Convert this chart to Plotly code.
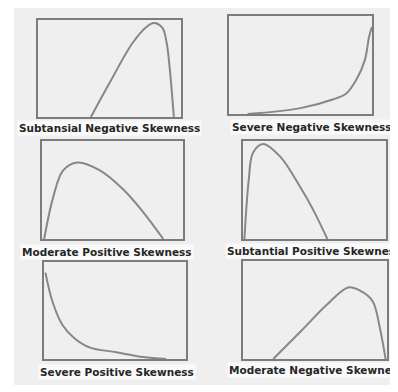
import plotly.graph_objects as go

W, H = 398, 392
OFF = 8  # page body margin shifts the figure by 8px

titles = [
    "Subtansial Negative Skewness",
    "Severe Negative Skewness",
    "Moderate Positive Skewness",
    "Subtantial Positive Skewness",
    "Severe Positive Skewness",
    "Moderate Negative Skewness",
]

# curve points (x, y as fraction of each box)
sub_neg_x = [0.37, 0.50, 0.66, 0.76, 0.81, 0.87, 0.90, 0.92, 0.95]
sub_neg_y = [0.00, 0.35, 0.76, 0.93, 0.97, 0.92, 0.76, 0.52, 0.00]

sev_neg_x = [0.13, 0.50, 0.73, 0.82, 0.89, 0.95, 0.98, 1.00]
sev_neg_y = [0.00, 0.06, 0.15, 0.21, 0.35, 0.55, 0.79, 0.89]

mod_pos_x = [0.015, 0.08, 0.15, 0.25, 0.41, 0.58, 0.72, 0.86]
mod_pos_y = [0.00, 0.43, 0.70, 0.78, 0.70, 0.50, 0.27, 0.00]

sub_pos_x = [0.01, 0.04, 0.07, 0.14, 0.26, 0.40, 0.49, 0.59]
sub_pos_y = [0.00, 0.60, 0.88, 0.97, 0.84, 0.53, 0.30, 0.00]

sev_pos_x = [0.01, 0.06, 0.13, 0.21, 0.32, 0.51, 0.70, 0.86]
sev_pos_y = [0.89, 0.59, 0.35, 0.22, 0.12, 0.07, 0.02, 0.00]

mod_neg_x = [0.21, 0.40, 0.58, 0.73, 0.81, 0.90, 0.95, 0.99]
mod_neg_y = [0.00, 0.28, 0.55, 0.73, 0.70, 0.59, 0.32, 0.00]

curves = [
    (sub_neg_x, sub_neg_y), (sev_neg_x, sev_neg_y),
    (mod_pos_x, mod_pos_y), (sub_pos_x, sub_pos_y),
    (sev_pos_x, sev_pos_y), (mod_neg_x, mod_neg_y),
]

# panel boxes in pixels: left, right, top, bottom
boxes = [
    (38, 181, 20, 117), (229, 372, 16, 114),
    (42, 183, 141, 239), (243, 386, 141, 239),
    (44, 186, 262, 359), (243, 387, 261, 359),
]
# label position in pixels (x, y, anchor)
labels = [
    (109, 128, "center"), (312, 127, "center"),
    (107, 252, "center"), (225, 251, "left"),
    (117, 372, "center"), (227, 370, "left"),
]


def px_x(v):
    return (v - OFF) / W


def px_y(v):
    return 1 - (v - OFF) / H


fig = go.Figure()

for i, ((cx, cy), (l, r, t, b)) in enumerate(zip(curves, boxes), start=1):
    xa = "x" if i == 1 else f"x{i}"
    ya = "y" if i == 1 else f"y{i}"
    fig.add_trace(go.Scatter(
        x=cx, y=cy, mode="lines", line_shape="spline",
        line=dict(color="#878787", width=2),
        xaxis=xa, yaxis=ya, hoverinfo="skip", showlegend=False,
    ))
    axis_style = dict(range=[0, 1], showgrid=False, zeroline=False,
                      showticklabels=False, ticks="", showline=True,
                      mirror=True, linecolor="#7c7c7c", linewidth=2,
                      fixedrange=True)
    xkey = "xaxis" if i == 1 else f"xaxis{i}"
    ykey = "yaxis" if i == 1 else f"yaxis{i}"
    fig.update_layout(**{
        xkey: dict(domain=[px_x(l), px_x(r)], anchor=ya, **axis_style),
        ykey: dict(domain=[px_y(b), px_y(t)], anchor=xa, **axis_style),
    })

for text, (lx, ly, anc) in zip(titles, labels):
    fig.add_annotation(
        text=f"<b>{text}</b>", x=px_x(lx), y=px_y(ly), xref="paper", yref="paper",
        xanchor=anc, yanchor="middle", showarrow=False,
        font=dict(family="DejaVu Sans", size=10.5, color="#262626"),
        bgcolor="#fafafa", borderpad=1,
    )

# light grey backdrop of the scanned figure
fig.add_shape(type="rect", xref="paper", yref="paper",
              x0=px_x(14), x1=1, y0=px_y(385), y1=1,
              fillcolor="#efefef", line_width=0, layer="below")

fig.update_layout(
    width=W, height=H, margin=dict(l=0, r=0, t=0, b=0),
    paper_bgcolor="white", plot_bgcolor="rgba(0,0,0,0)",
)

fig.write_html("out.html")
